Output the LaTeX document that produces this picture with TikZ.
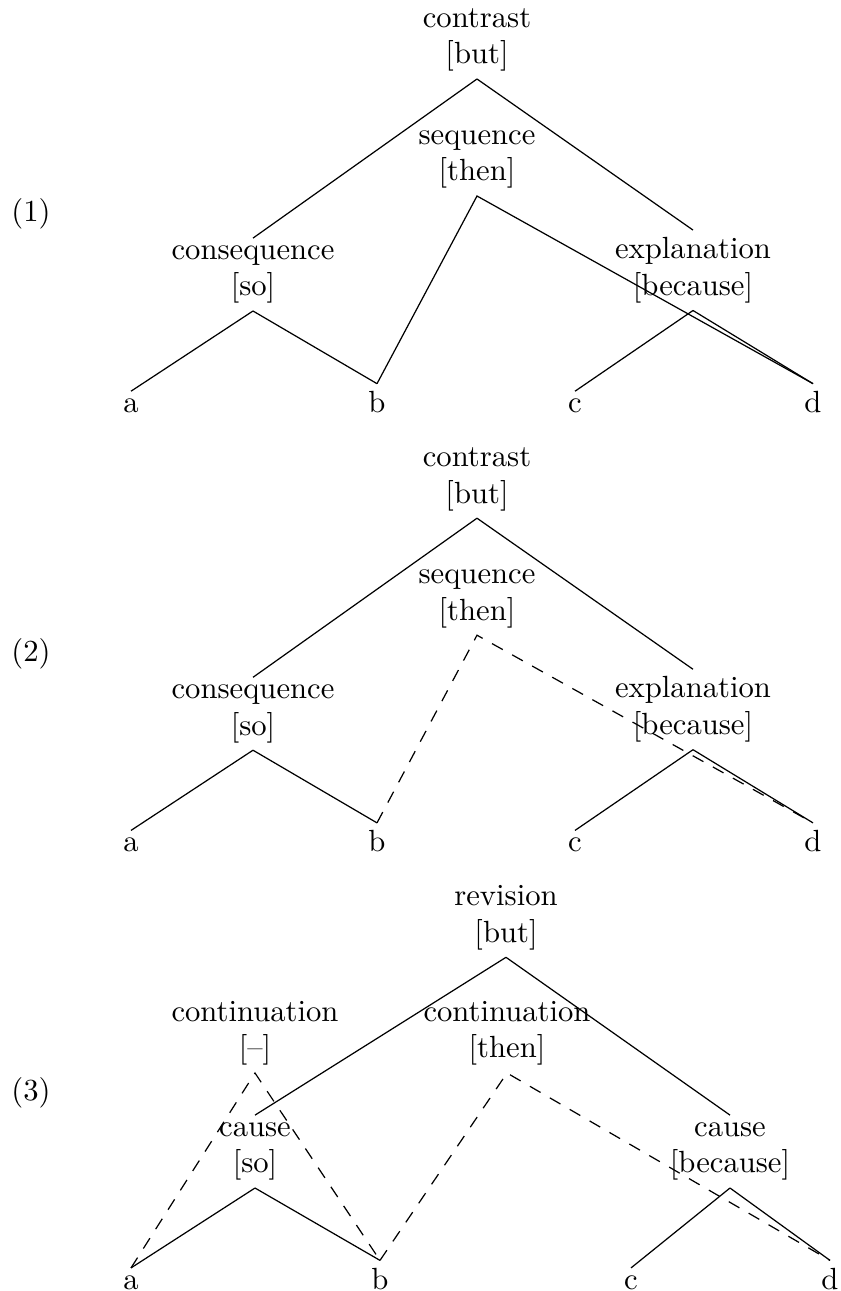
\documentclass[tikz,border=0pt]{standalone}
\begin{document}
\begin{tikzpicture}[x=0.32626pt,y=-0.32626pt,
  rel/.style={align=center,inner sep=2.2pt,anchor=south},
  leaf/.style={inner sep=2.2pt,anchor=base},
  numlabel/.style={inner sep=0pt,anchor=base},
  branch/.style={line width=0.4pt},
  overlay edge/.style={line width=0.4pt,dash pattern=on 4pt off 3.5pt}]
\useasboundingbox (0,0) rectangle (840,1291);

% ---------- (1) ----------
\node[numlabel] (n1) at (31,222) {(1)};
\node[rel] (top1) at (477,79) {contrast\\{[but]}};
\node[rel] (seq1) at (477,196) {sequence\\{[then]}};
\node[rel] (cons1) at (253,311) {consequence\\{[so]}};
\node[rel] (expl1) at (693,310.5) {explanation\\{[because]}};
\node[leaf] (a1) at (131,412.3) {a};
\node[leaf] (b1) at (377,412.3) {b};
\node[leaf] (c1) at (575,412.3) {c};
\node[leaf] (d1) at (813,412.3) {d};
\draw[branch] (top1.south) -- (cons1.north);
\draw[branch] (top1.south) -- (expl1.north);
\draw[branch] (cons1.south) -- (a1.north);
\draw[branch] (cons1.south) -- (b1.north);
\draw[branch] (expl1.south) -- (c1.north);
\draw[branch] (expl1.south) -- (d1.north);
\draw[branch] (b1.north) -- (seq1.south) -- (d1.north);

% ---------- (2) ----------
\node[numlabel] (n2) at (31,661.2) {(2)};
\node[rel] (top2) at (477,518.2) {contrast\\{[but]}};
\node[rel] (seq2) at (477,635.2) {sequence\\{[then]}};
\node[rel] (cons2) at (253,750.2) {consequence\\{[so]}};
\node[rel] (expl2) at (693,749.7) {explanation\\{[because]}};
\node[leaf] (a2) at (131,851.5) {a};
\node[leaf] (b2) at (377,851.5) {b};
\node[leaf] (c2) at (575,851.5) {c};
\node[leaf] (d2) at (813,851.5) {d};
\draw[branch] (top2.south) -- (cons2.north);
\draw[branch] (top2.south) -- (expl2.north);
\draw[branch] (cons2.south) -- (a2.north);
\draw[branch] (cons2.south) -- (b2.north);
\draw[branch] (expl2.south) -- (c2.north);
\draw[branch] (expl2.south) -- (d2.north);
\draw[overlay edge] (b2.north) -- (seq2.south) -- (d2.north);

% ---------- (3) ----------
\node[numlabel] (n3) at (31,1100.4) {(3)};
\node[rel] (top3) at (506,957.3) {revision\\{[but]}};
\node[rel] (contl3) at (255,1073) {continuation\\{[--]}};
\node[rel] (contm3) at (507,1073) {continuation\\{[then]}};
\node[rel] (causel3) at (255,1188) {cause\\{[so]}};
\node[rel] (causer3) at (730,1188) {cause\\{[because]}};
\node[leaf] (a3) at (131,1289) {a};
\node[leaf] (b3) at (380,1289) {b};
\node[leaf] (c3) at (631,1289) {c};
\node[leaf] (d3) at (830,1289) {d};
\draw[branch] (top3.south) -- (causel3.north);
\draw[branch] (top3.south) -- (causer3.north);
\draw[branch] (causel3.south) -- (a3.north);
\draw[branch] (causel3.south) -- (b3.north);
\draw[branch] (causer3.south) -- (c3.north);
\draw[branch] (causer3.south) -- (d3.north);
\draw[overlay edge] (a3.north) -- (contl3.south) -- (b3.north);
\draw[overlay edge] (b3.north) -- (contm3.south) -- (d3.north);
\end{tikzpicture}
\end{document}
